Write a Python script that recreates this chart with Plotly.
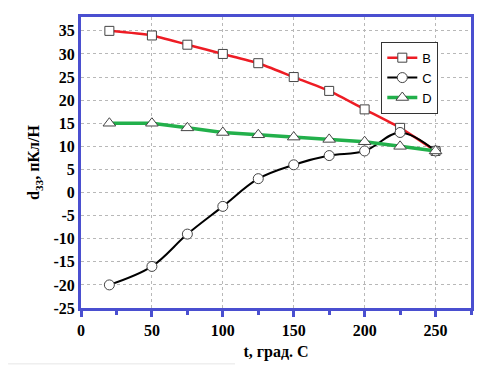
import plotly.graph_objects as go

t = [20, 50, 75, 100, 125, 150, 175, 200, 225, 250]
B = [35, 34, 32, 30, 28, 25, 22, 18, 14, 9]
C = [-20, -16, -9, -3, 3, 6, 8, 9, 13, 9]
D = [15, 15, 14, 13, 12.5, 12, 11.5, 11, 10, 9]

xticks = [0, 50, 100, 150, 200, 250]
yticks = list(range(-25, 36, 5))

blue = "#4a4fd0"
serif = "Liberation Serif"
fig = go.Figure()
fig.add_trace(go.Scatter(x=t, y=B, name="B", mode="lines+markers",
    line=dict(color="#ee1c24", width=2.5, shape="spline", smoothing=0.6),
    marker=dict(symbol="square", size=9, color="white", line=dict(color="#444", width=1))))
fig.add_trace(go.Scatter(x=t, y=C, name="C", mode="lines+markers",
    line=dict(color="black", width=2, shape="spline", smoothing=1),
    marker=dict(symbol="circle", size=10, color="white", line=dict(color="#444", width=1))))
fig.add_trace(go.Scatter(x=t, y=D, name="D", mode="lines+markers",
    line=dict(color="#22b04b", width=3.5),
    marker=dict(symbol="triangle-up", size=11, color="white", line=dict(color="#444", width=1))))

fig.add_shape(type="line", xref="paper", yref="paper", x0=-0.187, x1=0.395, y0=-0.192, y1=-0.192,
              line=dict(color="#e6e6e6", width=1))

fig.update_layout(
    template="none",
    font=dict(family=serif, size=16, color="black"),
    width=495, height=364,
    margin=dict(l=73, r=32, t=9, b=64),
    plot_bgcolor="white", paper_bgcolor="white",
    showlegend=True,
    legend=dict(x=0.77, y=0.915, xanchor="left", yanchor="top",
                bgcolor="white", bordercolor="#333", borderwidth=1,
                font=dict(family="Liberation Sans", size=13, color="black"),
                tracegroupgap=0, itemwidth=30),
    xaxis=dict(range=[0, 275], tickvals=xticks, ticktext=[f"<b>{v}</b>" for v in xticks], automargin=False,
               showgrid=True, gridcolor="#b8b8b8", griddash="dot", gridwidth=1,
               showline=True, linecolor=blue, linewidth=3, mirror=True,
               ticks="outside", ticklen=6, tickwidth=3, tickcolor=blue,
               minor=dict(tickvals=[25, 75, 125, 175, 225, 275], ticks="outside", ticklen=4, tickwidth=3, tickcolor=blue, showgrid=False),
               tickfont=dict(family=serif, size=16, color="black"), zeroline=False,
               title=dict(text="<b>t, град. C</b>", font=dict(family=serif, size=16, color="black"), standoff=8)),
    yaxis=dict(range=[-25, 38], tickvals=yticks, ticktext=[f"<b>{v}</b>" for v in yticks], automargin=False,
               showgrid=True, gridcolor="#b8b8b8", griddash="dot", gridwidth=1,
               showline=True, linecolor=blue, linewidth=3, mirror=True,
               ticks="", tickfont=dict(family=serif, size=16, color="black"), zeroline=False,
               title=dict(text="<b>d<sub>33</sub>, пКл/Н</b>", font=dict(family=serif, size=16, color="black"), standoff=10)),
)
fig.write_html("out.html")
